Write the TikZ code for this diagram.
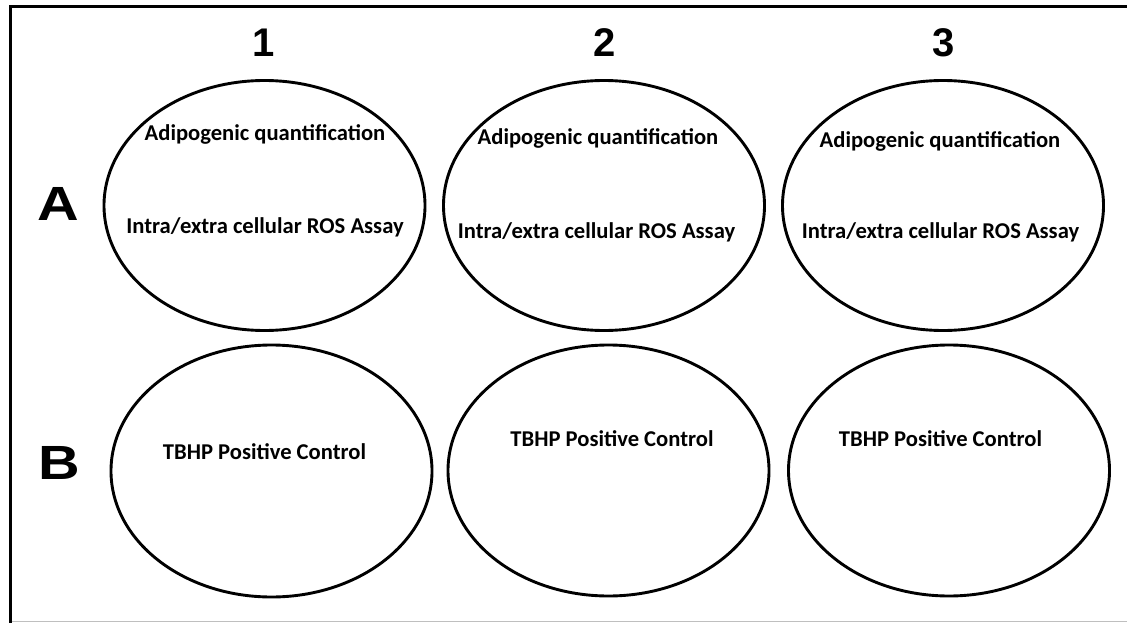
\documentclass[tikz,border=0pt]{standalone}
\usepackage{fontspec}
\newfontfamily\carlitofam{Carlito}
\newfontfamily\arialfam{Liberation Sans}
\usetikzlibrary{shapes.geometric}
\tikzset{
  well/.style={ellipse, draw=black, line width=2.9pt, inner sep=0pt, outer sep=0pt,
    minimum width=321pt, minimum height=250pt},
  welltext/.style={anchor=base, inner sep=0pt, font=\carlitofam\bfseries\fontsize{22.6}{26}\selectfont},
  collabel/.style={anchor=base, inner sep=0pt, font=\arialfam\bfseries\fontsize{40}{44}\selectfont},
  rowlabel/.style={anchor=base, inner sep=0pt, xscale=1.2, font=\arialfam\bfseries\fontsize{48}{52}\selectfont}
}
\begin{document}
\begin{tikzpicture}[x=1pt,y=-1pt]
\useasboundingbox (0,0) rectangle (1127,623);
\fill[white] (0,0) rectangle (1127,623);
% frame
\coordinate (fbl) at (10,623);
\coordinate (ftl) at (10,7);
\coordinate (ftr) at (1127,7);
\coordinate (bbl) at (10,621.5);
\coordinate (bbr) at (1127,621.5);
\draw[line width=0.8pt, black!25] (bbl) -- (bbr);
\draw[line width=3pt, black] (fbl) -- (ftl) -- (ftr);
% wells
\node[well] (a1) at (264.5,205.5) {};
\node[well] (a2) at (604,205.5) {};
\node[well] (a3) at (943,205.5) {};
\node[well, minimum height=252pt] (b1) at (271.5,471) {};
\node[well, minimum height=251pt] (b2) at (608.5,470.5) {};
\node[well, minimum height=251pt] (b3) at (949,470.5) {};
% column and row labels
\node[collabel] (c1) at (264,57) {1};
\node[collabel] (c2) at (605,57) {2};
\node[collabel] (c3) at (944,57) {3};
\node[rowlabel] (ra) at (58,220) {A};
\node[rowlabel] (rb) at (59,479) {B};
% texts
\node[welltext] (a1t1) at (265,141) {Adipogenic quantification};
\node[welltext] (a1t2) at (265,233) {Intra/extra cellular ROS Assay};
\node[welltext] (a2t1) at (598,145) {Adipogenic quantification};
\node[welltext] (a2t2) at (596.5,238) {Intra/extra cellular ROS Assay};
\node[welltext] (a3t1) at (940,147) {Adipogenic quantification};
\node[welltext] (a3t2) at (940.5,238) {Intra/extra cellular ROS Assay};
\node[welltext] (b1t) at (264.5,459) {TBHP Positive Control};
\node[welltext] (b2t) at (612,446) {TBHP Positive Control};
\node[welltext] (b3t) at (940.5,446) {TBHP Positive Control};
\end{tikzpicture}
\end{document}
